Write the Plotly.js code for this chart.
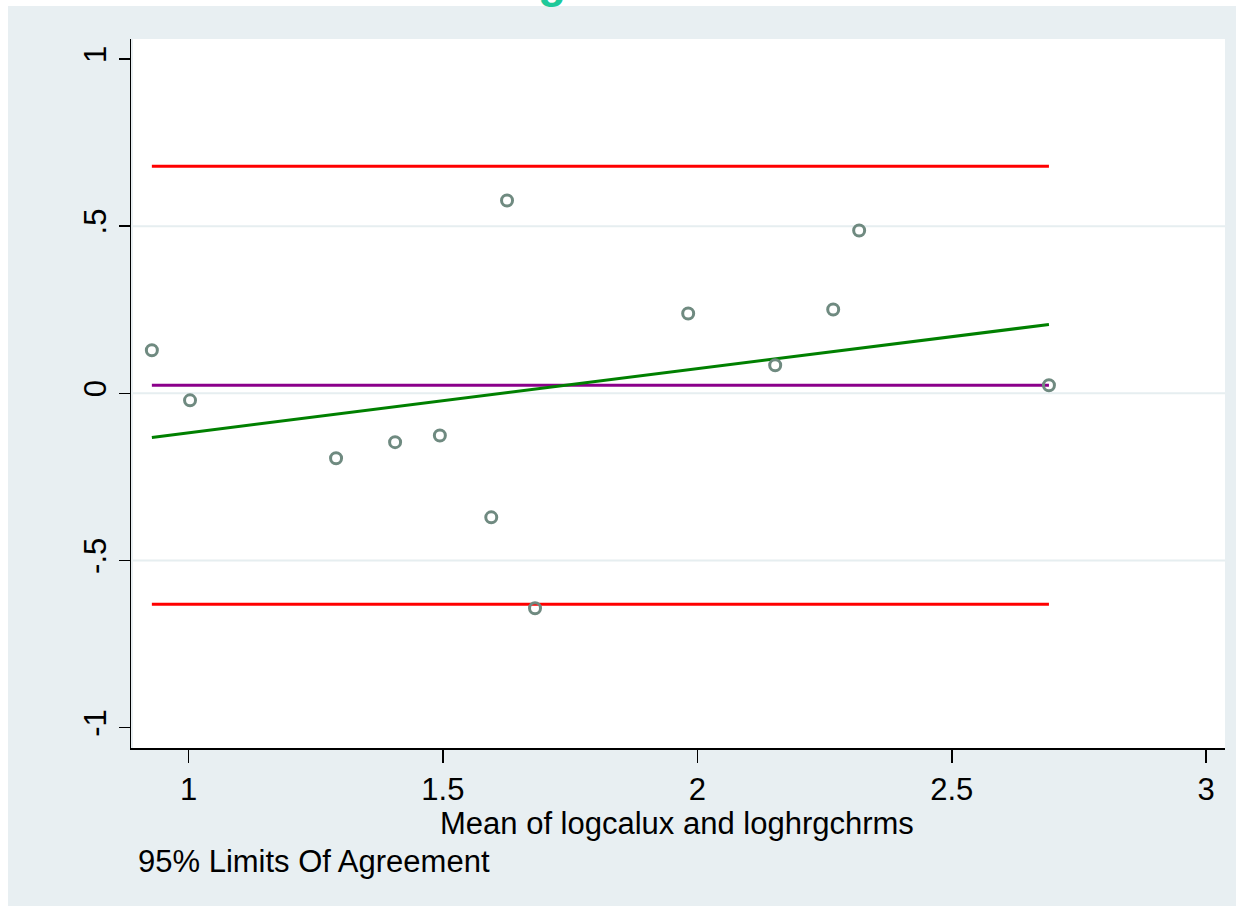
<!DOCTYPE html>
<html>
<head>
<meta charset="utf-8">
<script src="https://cdn.plot.ly/plotly-3.0.1.min.js"></script>
<style>
html,body{margin:0;padding:0;background:#fff;overflow:hidden;}
#chart{width:1242px;height:910px;}
</style>
</head>
<body>
<div id="chart"></div>
<script>
// Data
const meanVals = [0.928, 1.003, 1.290, 1.406, 1.494, 1.595, 1.626, 1.681, 1.982, 2.153, 2.267, 2.318, 2.691];
const diffVals = [0.129, -0.021, -0.194, -0.146, -0.126, -0.371, 0.577, -0.643, 0.239, 0.084, 0.251, 0.487, 0.024];
const lineX = [0.928, 2.691];
const upperLoA = [0.679, 0.679];
const lowerLoA = [-0.631, -0.631];
const meanDiff = [0.024, 0.024];
const fitLine = [-0.132, 0.206];
const xTicks = [1, 1.5, 2, 2.5, 3];
const xTickText = ["1", "1.5", "2", "2.5", "3"];
const yTicks = [-1, -0.5, 0, 0.5, 1];
const yTickText = ["-1", "-.5", "0", ".5", "1"];
const yGrid = [-0.5, 0, 0.5];
const xTitle = "Mean of logcalux and loghrgchrms";
const note = "95% Limits Of Agreement";

const W = 1242, H = 910;
const ml = 131, mr = 17, mt = 39, mb = 162;
const pw = W - ml - mr, ph = H - mt - mb;
const px = v => (v - ml) / pw;          // pixel -> paper x
const py = v => (H - mb - v) / ph;      // pixel -> paper y

const font = "Liberation Sans, Arial, sans-serif";
const fs = 31;

const traces = [
  {x: lineX, y: upperLoA, mode: 'lines', line: {color: '#ff0000', width: 3}, hoverinfo: 'skip'},
  {x: lineX, y: lowerLoA, mode: 'lines', line: {color: '#ff0000', width: 3}, hoverinfo: 'skip'},
  {x: lineX, y: meanDiff, mode: 'lines', line: {color: '#8b008b', width: 3}, hoverinfo: 'skip'},
  {x: lineX, y: fitLine, mode: 'lines', line: {color: '#008000', width: 3}, hoverinfo: 'skip'},
  {x: meanVals, y: diffVals, mode: 'markers',
   marker: {symbol: 'circle-open', size: 11, color: '#6f8a80', line: {width: 3, color: '#6f8a80'}}}
];

const shapes = [
  {type: 'rect', xref: 'paper', yref: 'paper', layer: 'below',
   x0: px(8), x1: px(1236), y0: py(906), y1: py(6),
   fillcolor: '#e8eff2', line: {width: 0}},
  {type: 'rect', xref: 'paper', yref: 'paper', layer: 'below',
   x0: px(133), x1: 1, y0: 0, y1: 1,
   fillcolor: '#ffffff', line: {width: 0}}
];
yGrid.forEach(g => shapes.push({
  type: 'line', xref: 'paper', yref: 'y', layer: 'below',
  x0: px(133), x1: 1, y0: g, y1: g, line: {color: '#e6eef0', width: 2}
}));

const layout = {
  width: W, height: H,
  margin: {l: ml, r: mr, t: mt, b: mb, pad: 0},
  paper_bgcolor: '#ffffff',
  plot_bgcolor: 'rgba(0,0,0,0)',
  showlegend: false,
  font: {family: font, color: '#000', size: fs},
  xaxis: {
    range: [0.887, 3.037], tickvals: xTicks, ticktext: xTickText,
    showgrid: false, zeroline: false, showline: true, linecolor: '#000', linewidth: 1.5,
    ticks: 'outside', ticklen: 13, tickwidth: 1.5, tickcolor: '#000',
    tickfont: {family: font, size: fs, color: '#000'}
  },
  yaxis: {
    range: [-1.061, 1.06], tickvals: yTicks, ticktext: yTickText,
    showgrid: false, zeroline: false, showline: true, linecolor: '#000', linewidth: 1.5,
    ticks: 'outside', ticklen: 11, tickwidth: 1.5, tickcolor: '#000', tickangle: -90,
    tickfont: {family: font, size: fs, color: '#000'}
  },
  shapes: shapes,
  annotations: [
    {text: xTitle, xref: 'paper', yref: 'paper', x: px(677), y: py(823),
     xanchor: 'center', yanchor: 'middle', showarrow: false,
     font: {family: font, size: fs, color: '#000'}},
    {text: note, xref: 'paper', yref: 'paper', x: px(136), y: py(861),
     xanchor: 'left', yanchor: 'middle', showarrow: false,
     font: {family: font, size: fs, color: '#000'}},
    {text: '<b>g</b>', xref: 'paper', yref: 'paper', x: px(552), y: py(-19),
     xanchor: 'center', yanchor: 'middle', showarrow: false,
     font: {family: font, size: 46, color: '#1ec99a'}}
  ]
};

Plotly.newPlot('chart', traces, layout, {displayModeBar: false, staticPlot: true});
</script>
</body>
</html>
